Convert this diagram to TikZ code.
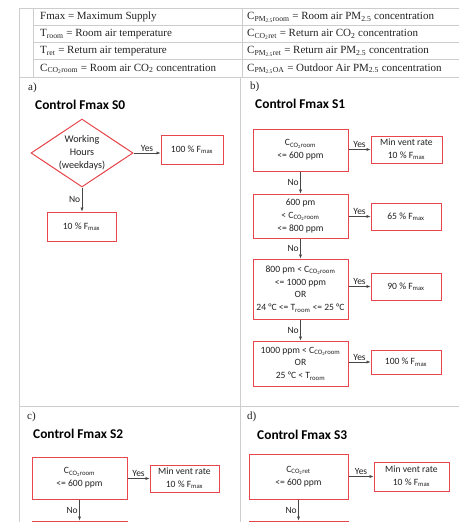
\documentclass[tikz,border=0pt]{standalone}
\usepackage{fontspec}
\setmainfont{Liberation Serif}
\newfontfamily\carl{Carlito}
\usetikzlibrary{shapes.geometric,arrows.meta}
\definecolor{boxred}{RGB}{230,70,76}
\definecolor{gridgrey}{RGB}{205,205,205}
\definecolor{arrgrey}{RGB}{70,70,70}
\definecolor{txt}{RGB}{35,35,35}
\newcommand\sbs[1]{\textsubscript{#1}}
\begin{document}
\begin{tikzpicture}[x=1pt,y=-1pt,
  grid/.style={draw=gridgrey, line width=0.7pt},
  tbl/.style={anchor=base west, inner sep=0pt, font=\fontsize{11}{13}\selectfont, text=txt},
  panel/.style={anchor=base west, inner sep=0pt, font=\fontsize{11}{13}\selectfont, text=txt},
  ttl/.style={anchor=base west, inner sep=0pt, font=\carl\bfseries\fontsize{13.4}{16}\selectfont, text=black},
  rbox/.style={draw=boxred, line width=1pt, fill=white, align=center, inner sep=0pt, font=\carl\fontsize{9.6}{12.8}\selectfont, text=txt},
  arr/.style={draw=arrgrey, line width=0.6pt, -{Latex[length=4pt,width=3.2pt]}},
  lbl/.style={font=\carl\fontsize{9.5}{11}\selectfont, text=txt, inner sep=1.5pt}
]
\useasboundingbox (0,0) rectangle (459,522);
\clip (0,0) rectangle (459,522);
\fill[white] (0,0) rectangle (459,522);

% table grid
\draw[grid] (19,8) -- (459,8);
\draw[grid] (33,25) -- (459,25);
\draw[grid] (33,42) -- (459,42);
\draw[grid] (33,59.5) -- (459,59.5);
\draw[grid, line width=1pt] (19,77.5) -- (459,77.5);
\draw[grid] (19,8) -- (19,522);
\draw[grid] (33,8) -- (33,77.5);
\draw[grid] (242,8) -- (242,77.5);
\draw[grid] (240,77.5) -- (240,522);
\draw[grid] (19,406) -- (459,406);

% table texts
\node[tbl] (t1) at (40,19.5) {Fmax = Maximum Supply};
\node[tbl] (t2) at (40,36.5) {T\sbs{room} = Room air temperature};
\node[tbl] (t3) at (40,53.5) {T\sbs{ret} = Return air temperature};
\node[tbl] (t4) at (40,71) {C\sbs{CO\sbs{2}room} = Room air CO\sbs{2} concentration};
\node[tbl] (t5) at (247,19.5) {C\sbs{PM\sbs{2.5}room} = Room air PM\sbs{2.5} concentration};
\node[tbl] (t6) at (247,36.5) {C\sbs{CO\sbs{2}ret} = Return air CO\sbs{2} concentration};
\node[tbl] (t7) at (247,53.5) {C\sbs{PM\sbs{2.5}ret} = Return air PM\sbs{2.5} concentration};
\node[tbl] (t8) at (247,71) {C\sbs{PM\sbs{2.5}OA} = Outdoor Air PM\sbs{2.5} concentration};

% panel labels and titles
\node[panel] (pa) at (28,90) {a)};
\node[panel] (pb) at (250,89) {b)};
\node[panel] (pc) at (27,419) {c)};
\node[panel] (pd) at (247,419) {d)};
\node[ttl] (ta) at (35,109) {Control Fmax S0};
\node[ttl] (tb) at (255,108) {Control Fmax S1};
\node[ttl] (tc) at (33,438) {Control Fmax S2};
\node[ttl] (td) at (257,439) {Control Fmax S3};

% panel a
\node[diamond, draw=boxred, line width=1pt, fill=white, minimum width=102, minimum height=68, inner sep=0pt] (dia) at (82,153) {};
\node[align=center, inner sep=0pt, font=\carl\fontsize{10.2}{12.8}\selectfont, text=txt] (diatext) at (dia.center) {Working\\Hours\\(weekdays)};
\node[rbox, minimum width=62, minimum height=29] (ayes) at (192,149.5) {100 \% F\sbs{max}};
\node[rbox, minimum width=69, minimum height=29] (ano) at (81.5,226.5) {10 \% F\sbs{max}};
\draw[arr] (dia.east) -- node[lbl, above] {Yes} (dia.east -| ayes.west);
\draw[arr] (dia.south) -- node[lbl, left] {No} (dia.south |- ano.north);

% panel b
\node[rbox, minimum width=95, minimum height=42] (b1) at (300.5,150) {C\sbs{CO\sbs{2}room}\\<= 600 ppm};
\node[rbox, minimum width=71, minimum height=27] (r1) at (406.5,149.5) {Min vent rate\\10 \% F\sbs{max}};
\node[rbox, minimum width=95, minimum height=44] (b2) at (300.5,216) {600 pm\\< C\sbs{CO\sbs{2}room}\\<= 800 ppm};
\node[rbox, minimum width=70, minimum height=27] (r2) at (406,216.5) {65 \% F\sbs{max}};
\node[rbox, minimum width=95, minimum height=60] (b3) at (300.5,289) {800 pm < C\sbs{CO\sbs{2}room}\\<= 1000 ppm\\OR\\24 °C <= T\sbs{room} <= 25 °C};
\node[rbox, minimum width=70, minimum height=27] (r3) at (406,286.5) {90 \% F\sbs{max}};
\node[rbox, minimum width=95, minimum height=45] (b4) at (300.5,363.5) {1000 ppm < C\sbs{CO\sbs{2}room}\\OR\\25 °C < T\sbs{room}};
\node[rbox, minimum width=70, minimum height=24] (r4) at (406,362) {100 \% F\sbs{max}};
\draw[arr] (b1.east |- r1.west) -- node[lbl, above] {Yes} (r1.west);
\draw[arr] (b2.east |- r2.west) -- node[lbl, above] {Yes} (r2.west);
\draw[arr] (b3.east |- r3.west) -- node[lbl, above] {Yes} (r3.west);
\draw[arr] (b4.east |- r4.west) -- node[lbl, above] {Yes} (r4.west);
\draw[arr] (b1.south) -- node[lbl, left] {No} (b2.north);
\draw[arr] (b2.south) -- node[lbl, left] {No} (b3.north);
\draw[arr] (b3.south) -- node[lbl, left] {No} (b4.north);

% panel c
\node[rbox, minimum width=95, minimum height=42] (c1) at (79.5,478) {C\sbs{CO\sbs{2}room}\\<= 600 ppm};
\node[rbox, minimum width=69, minimum height=27] (cr) at (184.5,478.5) {Min vent rate\\10 \% F\sbs{max}};
\node[rbox, minimum width=95, minimum height=40] (c2) at (79.5,541) {};
\draw[arr] (c1.east |- cr.west) -- node[lbl, above] {Yes} (cr.west);
\draw[arr] (c1.south) -- node[lbl, left] {No} (c2.north);

% panel d
\node[rbox, minimum width=99, minimum height=45] (d1) at (298.5,476.5) {C\sbs{CO\sbs{2}ret}\\<= 600 ppm};
\node[rbox, minimum width=75, minimum height=29] (dr) at (411.5,476.5) {Min vent rate\\10 \% F\sbs{max}};
\node[rbox, minimum width=99, minimum height=40] (d2) at (298.5,541) {};
\draw[arr] (d1.east |- dr.west) -- node[lbl, above] {Yes} (dr.west);
\draw[arr] (d1.south) -- node[lbl, left] {No} (d2.north);
\end{tikzpicture}
\end{document}
